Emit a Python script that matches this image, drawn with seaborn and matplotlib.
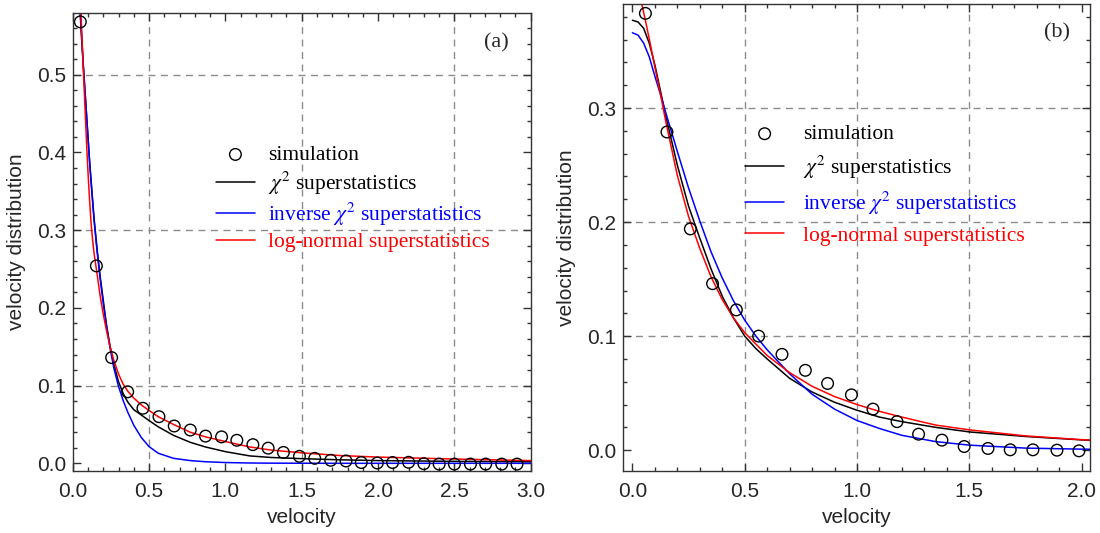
import numpy as np
import matplotlib
matplotlib.use('Agg')
import matplotlib.pyplot as plt
import seaborn as sns
from matplotlib.ticker import MultipleLocator

# 速度分布: (a) 与 (b) 两个面板

## 面板 (a) 数据
sim_a_x = [0.05, 0.155, 0.255, 0.36, 0.46, 0.565, 0.665, 0.77, 0.87, 0.975,
           1.075, 1.18, 1.28, 1.38, 1.485, 1.585, 1.69, 1.79, 1.89, 1.995,
           2.095, 2.2, 2.3, 2.4, 2.5, 2.605, 2.705, 2.81, 2.91]
sim_a_y = [0.568, 0.254, 0.136, 0.092, 0.0708, 0.060, 0.048, 0.0428, 0.035, 0.034,
           0.0296, 0.024, 0.0195, 0.014, 0.009, 0.0064, 0.0039, 0.003, 0.001, 0.0004,
           0.001, 0.0013, -0.0005, -0.001, -0.001, -0.001, -0.001, -0.001, -0.001]

curve_a_x = [0.04, 0.05, 0.06, 0.07, 0.08, 0.09, 0.10, 0.11, 0.12, 0.13, 0.14, 0.16,
             0.18, 0.20, 0.22, 0.245, 0.27, 0.30, 0.33, 0.36, 0.40, 0.45, 0.50, 0.56,
             0.66, 0.77, 0.87, 1.0, 1.16, 1.3, 1.5, 1.75, 2.0, 2.5, 3.0]
chi2_a = [0.62, 0.575, 0.54, 0.51, 0.48, 0.45, 0.42, 0.39, 0.365, 0.34, 0.315, 0.275,
          0.24, 0.21, 0.18, 0.15, 0.127, 0.105, 0.090, 0.079, 0.069, 0.062, 0.055, 0.047,
          0.036, 0.027, 0.021, 0.015, 0.0095, 0.0075, 0.006, 0.0045, 0.0035, 0.0025, 0.002]
inv_chi2_a = [0.63, 0.58, 0.545, 0.51, 0.48, 0.45, 0.42, 0.39, 0.362, 0.337, 0.312, 0.272,
              0.237, 0.206, 0.178, 0.148, 0.122, 0.099, 0.081, 0.066, 0.049, 0.033, 0.0215, 0.013,
              0.0064, 0.0035, 0.002, 0.001, 0.0004, 0.0002, 0.0001, 0.0, 0.0, 0.0, 0.0]
lognorm_a = [0.64, 0.60, 0.55, 0.505, 0.46, 0.415, 0.375, 0.34, 0.31, 0.288, 0.27, 0.243,
             0.215, 0.192, 0.172, 0.150, 0.132, 0.115, 0.102, 0.093, 0.084, 0.075, 0.068, 0.060,
             0.050, 0.040, 0.034, 0.028, 0.021, 0.017, 0.0135, 0.010, 0.008, 0.0055, 0.0035]

## 面板 (b) 数据
sim_b_x = [0.058, 0.154, 0.258, 0.357, 0.463, 0.562, 0.666, 0.77, 0.869, 0.975,
           1.071, 1.178, 1.274, 1.378, 1.477, 1.583, 1.682, 1.783, 1.89, 1.988]
sim_b_y = [0.383, 0.279, 0.194, 0.146, 0.123, 0.100, 0.084, 0.070, 0.0585, 0.0485,
           0.036, 0.025, 0.014, 0.0088, 0.0032, 0.0015, 0.0003, 0.0003, 0.0, -0.0006]

curve_b_x = [0.0, 0.025, 0.05, 0.075, 0.1, 0.125, 0.15, 0.2, 0.25, 0.3, 0.35, 0.4, 0.45, 0.5,
             0.55, 0.6, 0.7, 0.8, 0.9, 1.0, 1.1, 1.2, 1.35, 1.5, 1.75, 2.0, 2.04]
chi2_b = [0.377, 0.3755, 0.370, 0.357, 0.338, 0.315, 0.292, 0.250, 0.214, 0.186, 0.159, 0.135,
          0.116, 0.100, 0.089, 0.080, 0.063, 0.051, 0.042, 0.035, 0.029, 0.025, 0.020, 0.016,
          0.012, 0.009, 0.0086]
inv_chi2_b = [0.366, 0.364, 0.357, 0.345, 0.328, 0.312, 0.295, 0.262, 0.230, 0.201, 0.174, 0.151,
              0.131, 0.114, 0.100, 0.088, 0.067, 0.049, 0.036, 0.026, 0.019, 0.013, 0.0075, 0.0044,
              0.0018, 0.0009, 0.0008]
lognorm_b_x = [0.03, 0.04, 0.06, 0.08, 0.1, 0.13, 0.15, 0.2, 0.25, 0.3, 0.35, 0.4, 0.45, 0.5,
               0.6, 0.7, 0.8, 0.9, 1.0, 1.1, 1.2, 1.35, 1.5, 1.75, 2.0, 2.04]
lognorm_b = [0.405, 0.393, 0.375, 0.356, 0.336, 0.307, 0.287, 0.241, 0.205, 0.177, 0.152, 0.132, 0.116, 0.103,
             0.083, 0.068, 0.056, 0.047, 0.040, 0.034, 0.029, 0.022, 0.0178, 0.0125, 0.0092, 0.0088]

labels = ['simulation', r'$\chi^2$ superstatistics',
          r'inverse $\chi^2$ superstatistics', 'log-normal superstatistics']
label_colors = ['black', 'black', 'blue', 'red']

sns.set_theme(style='ticks')
plt.rcParams['font.family'] = ['Liberation Sans', 'DejaVu Sans']
plt.rcParams['mathtext.fontset'] = 'stix'

fig = plt.figure(figsize=(11, 5.33), dpi=100)
ax_a = fig.add_axes([0.0661, 0.1169, 0.4164, 0.8581])
ax_b = fig.add_axes([0.5661, 0.1169, 0.4248, 0.8751])


def draw_panel(ax, sx, sy, cx, c_chi, c_inv, lx, c_log):
    sns.lineplot(x=cx, y=c_chi, ax=ax, color='black', lw=1.1, sort=False,
                 estimator=None, label=labels[1])
    sns.lineplot(x=cx, y=c_inv, ax=ax, color='blue', lw=1.1, sort=False,
                 estimator=None, label=labels[2])
    sns.lineplot(x=lx, y=c_log, ax=ax, color='red', lw=1.1, sort=False,
                 estimator=None, label=labels[3])
    sns.scatterplot(x=sx, y=sy, ax=ax, s=70, marker='o', facecolor='none',
                    edgecolor='black', linewidth=1.0, label=labels[0], zorder=5)
    handles, labs = ax.get_legend_handles_labels()
    order = [labs.index(l) for l in labels]
    return [handles[i] for i in order]


def style_axes(ax, xmaj, ymaj, vgrid, hgrid):
    for v in vgrid:
        ax.axvline(v, color='#8c8c8c', lw=1.0, ls=(0, (5, 4)), zorder=0)
    for h in hgrid:
        ax.axhline(h, color='#8c8c8c', lw=1.0, ls=(0, (5, 4)), zorder=0)
    ax.xaxis.set_major_locator(MultipleLocator(xmaj))
    ax.xaxis.set_minor_locator(MultipleLocator(0.1))
    ax.yaxis.set_major_locator(MultipleLocator(ymaj))
    ax.yaxis.set_minor_locator(MultipleLocator(0.02))
    ax.tick_params(which='both', direction='in', top=True, right=True,
                   width=1.0, color='#333333', labelsize=15)
    ax.tick_params(axis='x', pad=8)
    ax.tick_params(axis='y', pad=4.5)
    ax.tick_params(which='major', length=6)
    ax.tick_params(which='minor', length=3)
    for sp in ax.spines.values():
        sp.set_linewidth(1.0)
        sp.set_color('#333333')
        sp.set_visible(True)
    ax.set_xlabel('velocity', fontsize=15, labelpad=5)
    ax.set_ylabel('velocity distribution', fontsize=15, labelpad=8)


## 面板 (a)
h_a = draw_panel(ax_a, sim_a_x, sim_a_y, curve_a_x, chi2_a, inv_chi2_a, curve_a_x, lognorm_a)
style_axes(ax_a, 0.5, 0.1, [0.5, 1.5, 2.5], [0.1, 0.3, 0.5])
ax_a.set_xlim(0, 3.0)
ax_a.set_ylim(-0.0095, 0.579)
ax_a.text(0.926, 0.935, '(a)', transform=ax_a.transAxes, ha='center', va='center',
          fontsize=16, family='Liberation Serif')
ax_a.legend(h_a, labels, loc='upper left', bbox_to_anchor=(0.28, 0.745), frameon=False,
            prop={'family': 'Liberation Serif', 'size': 15.5}, labelcolor=label_colors,
            handlelength=1.8, handletextpad=0.6, labelspacing=0.2, borderpad=0.2)

## 面板 (b)
h_b = draw_panel(ax_b, sim_b_x, sim_b_y, curve_b_x, chi2_b, inv_chi2_b, lognorm_b_x, lognorm_b)
style_axes(ax_b, 0.5, 0.1, [0.5, 1.0, 1.5], [0.1, 0.2, 0.3])
ax_b.set_xlim(-0.043, 2.037)
ax_b.set_ylim(-0.018, 0.391)
ax_b.text(0.929, 0.938, '(b)', transform=ax_b.transAxes, ha='center', va='center',
          fontsize=16, family='Liberation Serif')
ax_b.legend(h_b, labels, loc='upper left', bbox_to_anchor=(0.23, 0.775), frameon=False,
            prop={'family': 'Liberation Serif', 'size': 15.5}, labelcolor=label_colors,
            handlelength=1.8, handletextpad=0.9, labelspacing=0.42, borderpad=0.2)

fig.savefig('out.png', dpi=100)
